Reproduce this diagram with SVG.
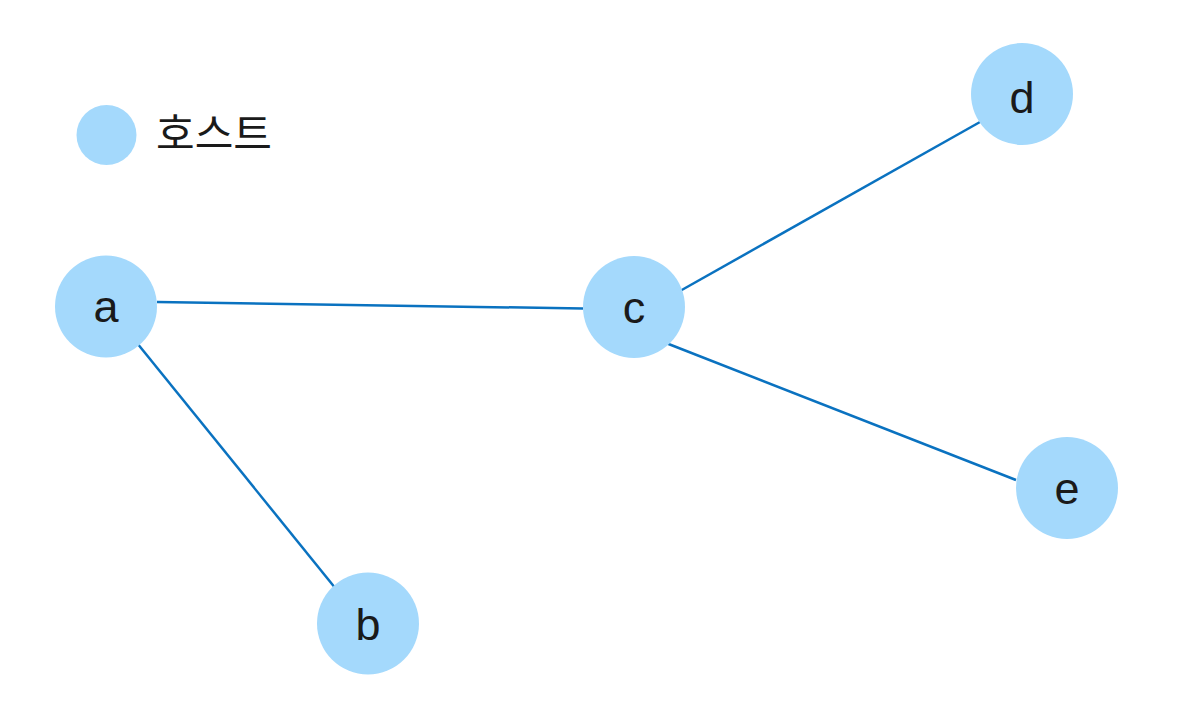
<svg xmlns="http://www.w3.org/2000/svg" width="1178" height="703" viewBox="0 0 1178 703">
<style>
.node{fill:#a4d9fc;}
.lbl{font-family:"Liberation Sans",Arial,sans-serif;font-size:45px;fill:#1a1a1a;text-anchor:middle;}
.edge{stroke:#0a72c0;stroke-width:2.5;fill:none;stroke-linecap:butt;}
.legend{font-family:"Noto Sans CJK KR","Noto Sans",sans-serif;font-size:42px;fill:#1a1a1a;}
</style>
<rect width="1178" height="703" fill="#ffffff"/>
<g id="connectors">
<line class="edge" x1="157" y1="302" x2="583" y2="308.5"/>
<line class="edge" x1="137" y1="343" x2="336" y2="589"/>
<line class="edge" x1="680" y1="291" x2="980" y2="122"/>
<line class="edge" x1="666" y1="343" x2="1016" y2="480"/>
</g>
<g id="legend">
<circle class="node" cx="106.5" cy="135" r="30"/>
<text class="legend" x="156" y="149">호스트</text>
</g>
<g id="node-a">
<circle class="node" cx="106" cy="306.5" r="51"/>
<text class="lbl" x="106" y="322">a</text>
</g>
<g id="node-b">
<circle class="node" cx="368" cy="623.5" r="51"/>
<text class="lbl" x="368" y="640">b</text>
</g>
<g id="node-c">
<circle class="node" cx="634" cy="307" r="51"/>
<text class="lbl" x="634" y="323">c</text>
</g>
<g id="node-d">
<circle class="node" cx="1022" cy="94" r="51"/>
<text class="lbl" x="1022" y="113">d</text>
</g>
<g id="node-e">
<circle class="node" cx="1067" cy="488" r="51"/>
<text class="lbl" x="1067" y="504">e</text>
</g>
</svg>
